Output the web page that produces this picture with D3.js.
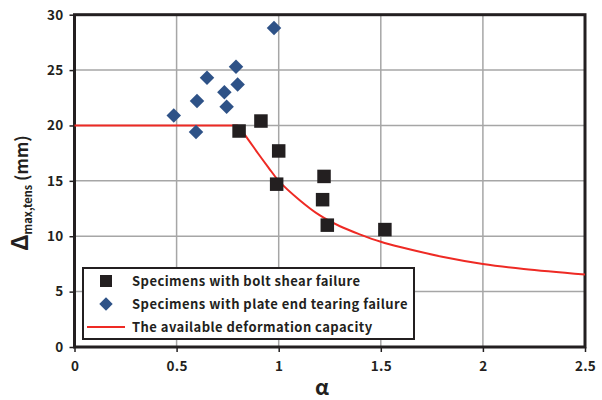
<!DOCTYPE html>
<html>
<head>
<meta charset="utf-8">
<script src="https://cdn.jsdelivr.net/npm/d3@7"></script>
<style>
  html, body { margin: 0; padding: 0; background: #fff; }
  svg { display: block; }
  text { font-family: "Noto Sans CJK KR", "Noto Sans", sans-serif; font-weight: bold; fill: #231f20; }
</style>
</head>
<body>
<svg id="chart" width="602" height="400"></svg>
<script>
// Bolt shear failure specimens
const shearAlpha = [0.806, 0.913, 1.00, 0.99, 1.222, 1.215, 1.238, 1.52];
const shearDelta = [19.5, 20.4, 17.7, 14.7, 15.4, 13.3, 11.0, 10.6];

// Plate end tearing failure specimens
const tearAlpha = [0.486, 0.595, 0.60, 0.649, 0.734, 0.745, 0.791, 0.799, 0.977];
const tearDelta = [20.9, 19.4, 22.2, 24.3, 23.0, 21.7, 25.3, 23.7, 28.8];

// Available deformation capacity: plateau, then decaying branch
const capAlpha = [0, 0.8, 0.85, 0.9, 0.95, 1.0, 1.1, 1.2, 1.3, 1.4, 1.5, 1.6, 1.8, 2.0, 2.2, 2.5];
const capDelta = [20, 20, 18.75, 17.45, 16.2, 15.0, 13.3, 11.9, 10.9, 10.15, 9.5, 9.0, 8.15, 7.5, 7.05, 6.55];

const xTicks = [0, 0.5, 1, 1.5, 2, 2.5];
const xTickLabels = ["0", "0.5", "1", "1.5", "2", "2.5"];
const yTicks = [0, 5, 10, 15, 20, 25, 30];

const legendLabels = [
  "Specimens with bolt shear failure",
  "Specimens with plate end tearing failure",
  "The available deformation capacity"
];

const plotL = 74.5, plotR = 585, plotT = 14.7, plotB = 347;
const x = d3.scaleLinear().domain([0, 2.5]).range([plotL, plotR]);
const y = d3.scaleLinear().domain([0, 30]).range([plotB, plotT]);

const svg = d3.select("#chart");

// grid
const grid = svg.append("g");
grid.selectAll("line.gx").data(xTicks.slice(1, -1)).join("line")
  .attr("x1", d => x(d)).attr("x2", d => x(d))
  .attr("y1", plotT).attr("y2", plotB)
  .attr("stroke", "#a6a6a6").attr("stroke-width", 1.5);
grid.selectAll("line.gy").data(yTicks.slice(1, -1)).join("line")
  .attr("x1", plotL).attr("x2", plotR)
  .attr("y1", d => y(d)).attr("y2", d => y(d))
  .attr("stroke", "#a6a6a6").attr("stroke-width", 1.5);

// axes
const yAxis = svg.append("g").attr("transform", `translate(${plotL},0)`)
  .call(d3.axisLeft(y).tickValues(yTicks).tickSize(5).tickPadding(6).tickFormat(d3.format("d")));
const xAxis = svg.append("g").attr("transform", `translate(0,${plotB})`)
  .call(d3.axisBottom(x).tickValues(xTicks).tickSize(5).tickPadding(9).tickFormat((d, i) => xTickLabels[i]));
[xAxis, yAxis].forEach(a => {
  a.select(".domain").remove();
  a.selectAll(".tick line").attr("stroke", "#231f20").attr("stroke-width", 1.5);
  a.selectAll(".tick text").attr("font-size", 13.5).attr("font-family", "'Noto Sans CJK KR', sans-serif")
    .attr("font-weight", "bold").attr("fill", "#231f20").attr("letter-spacing", 0.3);
});

// frame
svg.append("rect").attr("x", plotL).attr("y", plotT)
  .attr("width", plotR - plotL).attr("height", plotB - plotT)
  .attr("fill", "none").attr("stroke", "#231f20").attr("stroke-width", 3);

// capacity curve: straight plateau and smooth decaying branch
const plateau = d3.line().x(i => x(capAlpha[i])).y(i => y(capDelta[i]));
const decay = d3.line().x(i => x(capAlpha[i])).y(i => y(capDelta[i])).curve(d3.curveCatmullRom.alpha(0.5));
const idx = d3.range(capAlpha.length);
svg.append("path").attr("d", plateau(idx.slice(0, 2)))
  .attr("fill", "none").attr("stroke", "#ee2a24").attr("stroke-width", 2);
svg.append("path").attr("d", decay(idx.slice(1)))
  .attr("fill", "none").attr("stroke", "#ee2a24").attr("stroke-width", 2);

// tearing diamonds
const diamond = d3.symbol().type(d3.symbolSquare).size(105);
svg.append("g").selectAll("path").data(tearAlpha).join("path")
  .attr("d", diamond)
  .attr("transform", (d, i) => `translate(${x(d)},${y(tearDelta[i])}) rotate(45)`)
  .attr("fill", "#2e5287");

// shear squares
const sq = 13.5;
svg.append("g").selectAll("rect").data(shearAlpha).join("rect")
  .attr("x", d => x(d) - sq / 2)
  .attr("y", (d, i) => y(shearDelta[i]) - sq / 2)
  .attr("width", sq).attr("height", sq)
  .attr("fill", "#231f20");

// axis titles
svg.append("text").attr("x", 322).attr("y", 395)
  .attr("text-anchor", "middle").attr("font-size", 21).text("α");

const yt = svg.append("text").attr("transform", "translate(28,193) rotate(-90)")
  .attr("text-anchor", "middle");
yt.append("tspan").attr("font-size", 23).text("Δ");
yt.append("tspan").attr("font-size", 11).attr("dy", 4).text("max,tens");
yt.append("tspan").attr("font-size", 17).attr("dy", -4).text(" (mm)");

// legend
const lg = svg.append("g");
lg.append("rect").attr("x", 83).attr("y", 268).attr("width", 331).attr("height", 71)
  .attr("fill", "#fff").attr("stroke", "#231f20").attr("stroke-width", 2);
const rowY = [281, 304, 327];
lg.append("rect").attr("x", 106 - 6).attr("y", rowY[0] - 6).attr("width", 12).attr("height", 12).attr("fill", "#231f20");
lg.append("path").attr("d", d3.symbol().type(d3.symbolSquare).size(90))
  .attr("transform", `translate(106,${rowY[1]}) rotate(45)`).attr("fill", "#2e5287");
lg.append("line").attr("x1", 87).attr("x2", 125).attr("y1", rowY[2]).attr("y2", rowY[2])
  .attr("stroke", "#ee2a24").attr("stroke-width", 2);
lg.selectAll("text").data(legendLabels).join("text")
  .attr("x", 132).attr("y", (d, i) => rowY[i]).attr("dy", "0.35em")
  .attr("font-size", 13).attr("letter-spacing", 0.45).text(d => d);
</script>
</body>
</html>
